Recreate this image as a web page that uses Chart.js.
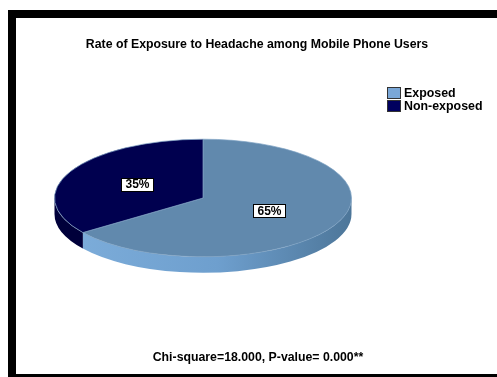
<!DOCTYPE html>
<html>
<head>
<meta charset="utf-8">
<script src="https://cdn.jsdelivr.net/npm/chart.js@4.4.1/dist/chart.umd.min.js"></script>
<style>
    html, body { margin: 0; padding: 0; background: #fff; }
    #wrap { position: relative; width: 497px; height: 377px; overflow: hidden; }
    #frame {
        position: absolute; left: 8px; top: 10px; width: 489px; height: 367px;
        box-sizing: border-box;
        border-left: 8px solid #000; border-top: 8px solid #000; border-bottom: 3px solid #000;
    }
    #pieChart { position: absolute; left: 0; top: 0; }
</style>
</head>
<body>
<div id="wrap">
    <div id="frame"></div>
    <canvas id="pieChart" width="497" height="377"></canvas>
</div>
<script>
// data
const labels = ["Exposed", "Non-exposed"]
const percents = [65, 35]
const sliceColors = ["#6189ad", "#00004f"]
const legendColors = ["#7aa7d7", "#00005e"]
const chartTitle = "Rate of Exposure to Headache among Mobile Phone Users"
const footnote = "Chi-square=18.000, P-value= 0.000**"

// 3d look: squash the pie vertically and add a rim below it
const tilt = 59 / 149
const depth = 16
const frontHalves = [[0, Math.PI], [2 * Math.PI, 3 * Math.PI]]

const pie3d = {
    id: "pie3d",
    beforeDatasetsDraw(chart) {
        const ctx = chart.ctx
        const arcs = chart.getDatasetMeta(0).data
        const cx = arcs[0].x
        const cy = arcs[0].y
        ctx.save()
        ctx.translate(cx, cy)
        ctx.scale(1, tilt)
        ctx.translate(-cx, -cy)
        const d = depth / tilt
        arcs.forEach((arc, i) => {
            const r = arc.outerRadius
            let fill = "#00003a"
            if (i === 0) {
                fill = ctx.createLinearGradient(cx - r, 0, cx + r, 0)
                fill.addColorStop(0, "#7eaedb")
                fill.addColorStop(0.55, "#6e9fce")
                fill.addColorStop(1, "#4d7699")
            }
            frontHalves.forEach(([lo, hi]) => {
                const a = Math.max(arc.startAngle, lo)
                const b = Math.min(arc.endAngle, hi)
                if (a >= b) return
                ctx.beginPath()
                ctx.arc(cx, cy, r, a, b)
                ctx.arc(cx, cy + d, r, b, a, true)
                ctx.closePath()
                ctx.fillStyle = fill
                ctx.fill()
            })
        })
    },
    afterDatasetsDraw(chart) {
        const ctx = chart.ctx
        ctx.restore()
        const arcs = chart.getDatasetMeta(0).data
        const data = chart.data.datasets[0].data
        const total = data.reduce((s, v) => s + v, 0)
        ctx.save()
        ctx.font = "bold 12px Arial, 'Liberation Sans'"
        ctx.textAlign = "center"
        ctx.textBaseline = "middle"
        arcs.forEach((arc, i) => {
            const p = arc.tooltipPosition()
            const x = p.x
            const y = arc.y + (p.y - arc.y) * tilt
            const txt = Math.round(data[i] / total * 100) + "%"
            const w = Math.round(ctx.measureText(txt).width + 8)
            const left = Math.round(x - w / 2) + 0.5
            const top = Math.round(y - 7) + 0.5
            ctx.fillStyle = "#fff"
            ctx.fillRect(left, top, w, 13)
            ctx.strokeStyle = "#000"
            ctx.lineWidth = 1
            ctx.strokeRect(left, top, w, 13)
            ctx.fillStyle = "#000"
            ctx.fillText(txt, left + w / 2, y + 0.5)
        })
        ctx.restore()
    },
    afterDraw(chart) {
        const ctx = chart.ctx
        ctx.save()
        ctx.fillStyle = "#000"
        ctx.textBaseline = "middle"
        ctx.textAlign = "center"
        ctx.font = "bold 12.3px Arial, 'Liberation Sans'"
        ctx.fillText(chartTitle, 257, 45)
        ctx.fillText(footnote, 258, 358)

        // legend
        ctx.textAlign = "left"
        ctx.font = "bold 12.4px Arial, 'Liberation Sans'"
        labels.forEach((lab, i) => {
            const y = 87 + i * 13
            ctx.fillStyle = legendColors[i]
            ctx.fillRect(387.5, y + 0.5, 13, 11)
            ctx.strokeStyle = "#333"
            ctx.lineWidth = 1
            ctx.strokeRect(387.5, y + 0.5, 13, 11)
            ctx.fillStyle = "#000"
            ctx.fillText(lab, 404, y + 6.5)
        })
        ctx.restore()
    }
}

const ctx = document.getElementById("pieChart").getContext("2d")

const pieChart = new Chart(ctx, {
    type: "pie",
    data: {
        labels: labels,
        datasets: [
            {
                data: percents,
                backgroundColor: sliceColors,
                borderColor: "#7fa3c4",
                borderWidth: 1,
            },
        ],
    },
    options: {
        responsive: false,
        animation: false,
        events: [],
        layout: {
            padding: { left: 54, right: 145, top: 49, bottom: 30 },
        },
        plugins: {
            legend: { display: false },
            tooltip: { enabled: false },
        },
    },
    plugins: [pie3d],
})
</script>
</body>
</html>
